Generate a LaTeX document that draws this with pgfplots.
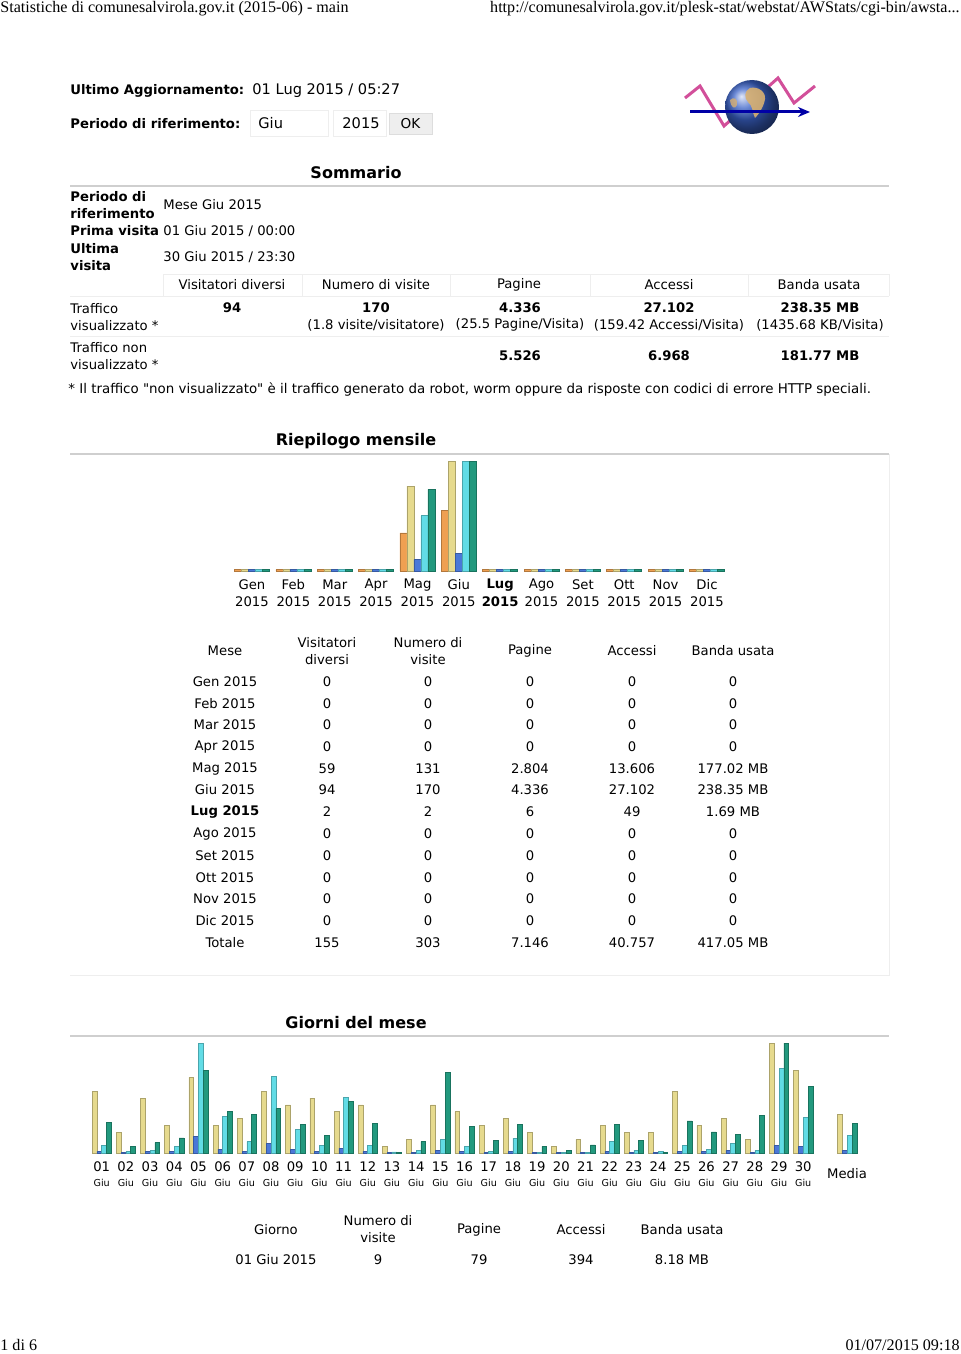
\documentclass[border=0pt]{standalone}
\usepackage{pgfplots}
\pgfplotsset{compat=1.18}
\usepackage{pgfplotstable}
\usepackage{fontspec}
\setmainfont{DejaVu Sans}
\newfontfamily\serif{Liberation Serif}
\usetikzlibrary{arrows.meta}

\definecolor{cu}{HTML}{EFA052}
\definecolor{cv}{HTML}{E6DA8E}
\definecolor{cp}{HTML}{4A78D8}
\definecolor{ch}{HTML}{62DCE6}
\definecolor{ck}{HTML}{22997E}
\definecolor{rulec}{HTML}{CFCFCF}
\definecolor{faint}{HTML}{EEEEEE}
\definecolor{globe}{HTML}{3A62C8}
\definecolor{land}{HTML}{D8B070}

\newcommand\fs{\fontsize{6.6pt}{8pt}\selectfont}
\newcommand\fsb{\fontsize{6.6pt}{8pt}\selectfont\bfseries}
\newcommand\ft{\fontsize{8pt}{9pt}\selectfont\bfseries}
\newcommand\fh{\serif\fontsize{8.05pt}{9pt}\selectfont}
\newcommand\sq{{\XeTeXglyph\XeTeXcharglyph"22 }}

% monthly summary
\pgfplotstableread{
m vu v p h k
0 0 0 0 0 0
1 0 0 0 0 0
2 0 0 0 0 0
3 0 0 0 0 0
4 59 131 2804 13606 177.02
5 94 170 4336 27102 238.35
6 2 2 6 49 1.69
7 0 0 0 0 0
8 0 0 0 0 0
9 0 0 0 0 0
10 0 0 0 0 0
11 0 0 0 0 0
}\monthly

% days of the month (last row = Media)
\pgfplotstableread{
d v p h k
1 9 79 394 8.18
2 3 36 87 1.80
3 8 87 137 2.77
4 4 87 341 4.04
5 11 850 5600 21.98
6 4 204 1868 11.22
7 5 87 575 10.30
8 9 473 3920 11.84
9 7 204 1186 7.61
10 8 87 392 4.76
11 6 255 2815 13.80
12 7 87 407 7.99
13 1 40 52 0.27
14 2 51 153 3.04
15 7 137 697 21.60
16 6 87 341 7.07
17 4 51 66 3.42
18 5 87 764 7.72
19 3 36 51 1.80
20 1 36 38 0.73
21 2 36 51 2.15
22 4 87 575 7.72
23 3 36 137 3.42
24 3 36 66 0.19
25 9 87 407 8.61
26 4 87 204 5.65
27 5 137 473 5.03
28 2 36 137 10.03
29 16 407 4291 29.40
30 12 341 1832 17.75
31.82 5.67 144.5 903.4 7.95
}\days

\newcommand\mrow[7]{%
  \node at (225,#1) {#2}; \node at (327,#1) {#3}; \node at (428,#1) {#4};
  \node at (530,#1) {#5}; \node at (632,#1) {#6}; \node at (733,#1) {#7};}

\begin{document}
\begin{tikzpicture}
\begin{scope}[x=0.5pt,y=-0.5pt,every node/.style={inner sep=0pt,font=\fs}]
\path (0,0) rectangle (960,1354);

% browser header / footer
\node[anchor=north west,font=\fh] at (0,0.5) {Statistiche di comunesalvirola.gov.it (2015-06) - main};
\node[anchor=north east,font=\fh] at (960,0.5) {http://comunesalvirola.gov.it/plesk-stat/webstat/AWStats/cgi-bin/awsta...};
\node[anchor=mid west,font=\fh] at (0,1345) {1 di 6};
\node[anchor=mid east,font=\fh] at (960,1345) {01/07/2015 09:18};

% top block
\node[anchor=mid west,font=\fsb] at (70,89) {Ultimo Aggiornamento:};
\node[anchor=mid west,font=\fontsize{7.3pt}{8pt}\selectfont] at (252,89) {01 Lug 2015 / 05:27};
\node[anchor=mid west,font=\fsb] at (70,123) {Periodo di riferimento:};
\draw[faint,fill=white] (250,110) rectangle (328,136);
\draw[faint,fill=white] (333,110) rectangle (386,136);
\draw[rulec!70,fill=faint] (389,113) rectangle (432,134);
\node[anchor=mid west,font=\fontsize{7.3pt}{8pt}\selectfont] at (258,123) {Giu};
\node[anchor=mid east,font=\fontsize{7.3pt}{8pt}\selectfont] at (380,123) {2015};
\node[font=\fontsize{6.8pt}{8pt}\selectfont] at (410.5,124) {OK};

% logo
\draw[magenta!60!violet!80,line width=1.5pt,line join=miter] (685,98) -- (700,86) -- (724,126) -- (778,78) -- (794,103) -- (815,86);
\shade[ball color=globe] (752,107) circle (27);
\fill[land,opacity=0.9] (750,88) .. controls (758,86) and (766,92) .. (765,99) .. controls (764,106) and (759,114) .. (755,118) .. controls (752,112) and (753,106) .. (748,102) .. controls (744,98) and (744,91) .. cycle;
\fill[land,opacity=0.8] (730,100) .. controls (734,96) and (738,99) .. (737,105) .. controls (735,110) and (731,108) .. cycle;
\draw[blue!65!black,line width=1.5pt,-{Stealth[length=6pt,width=5pt]}] (690,112) -- (810,112);

% Sommario
\node[font=\ft] at (356,173) {Sommario};
\draw[rulec,line width=0.8pt] (70,186) -- (889,186);
\node[anchor=mid west,font=\fsb] at (70,196) {Periodo di};
\node[anchor=mid west,font=\fsb] at (70,213) {riferimento};
\node[anchor=mid west] at (163,204) {Mese Giu 2015};
\node[anchor=mid west,font=\fsb] at (70,230) {Prima visita};
\node[anchor=mid west] at (163,230) {01 Giu 2015 / 00:00};
\node[anchor=mid west,font=\fsb] at (70,248) {Ultima};
\node[anchor=mid west,font=\fsb] at (70,265) {visita};
\node[anchor=mid west] at (163,256) {30 Giu 2015 / 23:30};
\draw[faint] (163,274) -- (889,274);
\draw[faint] (70,296) -- (889,296);
\foreach \xx in {163,302,450,590,748,889} \draw[faint] (\xx,274) -- (\xx,296);
\node at (232,285) {Visitatori diversi};
\node at (376,285) {Numero di visite};
\node at (519,285) {Pagine};
\node at (669,285) {Accessi};
\node at (819,285) {Banda usata};
\node[anchor=mid west] at (70,308) {Traffico};
\node[anchor=mid west] at (70,325) {visualizzato *};
\node[font=\fsb] at (232,308) {94};
\node[font=\fsb] at (376,308) {170};
\node[font=\fsb] at (520,308) {4.336};
\node[font=\fsb] at (669,308) {27.102};
\node[font=\fsb] at (820,308) {238.35 MB};
\node at (376,325) {(1.8 visite/visitatore)};
\node at (520,325) {(25.5 Pagine/Visita)};
\node at (669,325) {(159.42 Accessi/Visita)};
\node at (820,325) {(1435.68 KB/Visita)};
\draw[faint] (70,336) -- (889,336);
\node[anchor=mid west] at (70,347) {Traffico non};
\node[anchor=mid west] at (70,364) {visualizzato *};
\node[font=\fsb] at (520,356) {5.526};
\node[font=\fsb] at (669,356) {6.968};
\node[font=\fsb] at (820,356) {181.77 MB};
\node[anchor=mid west,font=\fontsize{6.7pt}{8pt}\selectfont] at (68,388) {* Il traffico \sq non visualizzato\sq\ è il traffico generato da robot, worm oppure da risposte con codici di errore HTTP speciali.};

% Riepilogo mensile
\node[font=\ft] at (356,441) {Riepilogo mensile};
\draw[rulec,line width=0.8pt] (70,454) -- (889,454);
\draw[faint] (889,454) -- (889,975) -- (70,975);
\foreach \n [count=\i from 0] in {Gen,Feb,Mar,Apr,Mag,Giu,Lug,Ago,Set,Ott,Nov,Dic} {
  \pgfmathsetmacro\xx{252+41.36*\i}
  \node at (\xx,585) {\ifnum\i=6 \bfseries\fi\n};
  \node at (\xx,602) {\ifnum\i=6 \bfseries\fi 2015};
}
\node at (225,651) {Mese};
\node at (327,643) {Visitatori};
\node at (327,660) {diversi};
\node at (428,643) {Numero di};
\node at (428,660) {visite};
\node at (530,651) {Pagine};
\node at (632,651) {Accessi};
\node at (733,651) {Banda usata};
\mrow{682}{Gen 2015}{0}{0}{0}{0}{0}
\mrow{703.5}{Feb 2015}{0}{0}{0}{0}{0}
\mrow{725}{Mar 2015}{0}{0}{0}{0}{0}
\mrow{747}{Apr 2015}{0}{0}{0}{0}{0}
\mrow{769}{Mag 2015}{59}{131}{2.804}{13.606}{177.02 MB}
\mrow{790}{Giu 2015}{94}{170}{4.336}{27.102}{238.35 MB}
\mrow{812}{\bfseries Lug 2015}{2}{2}{6}{49}{1.69 MB}
\mrow{834}{Ago 2015}{0}{0}{0}{0}{0}
\mrow{856}{Set 2015}{0}{0}{0}{0}{0}
\mrow{878}{Ott 2015}{0}{0}{0}{0}{0}
\mrow{899}{Nov 2015}{0}{0}{0}{0}{0}
\mrow{921}{Dic 2015}{0}{0}{0}{0}{0}
\mrow{943}{Totale}{155}{303}{7.146}{40.757}{417.05 MB}

% Giorni del mese
\node[font=\ft] at (356,1023) {Giorni del mese};
\draw[rulec,line width=0.8pt] (70,1036) -- (889,1036);
\foreach \d [count=\i from 0] in {01,02,03,04,05,06,07,08,09,10,11,12,13,14,15,16,17,18,19,20,21,22,23,24,25,26,27,28,29,30} {
  \pgfmathsetmacro\xx{101.7+24.19*\i}
  \node at (\xx,1167) {\d};
  \node[font=\fontsize{4.8pt}{5pt}\selectfont] at (\xx,1183) {Giu};
}
\node at (847,1174) {Media};
\node at (276,1230) {Giorno};
\node at (378,1221) {Numero di};
\node at (378,1238) {visite};
\node at (479,1230) {Pagine};
\node at (581,1230) {Accessi};
\node at (682,1230) {Banda usata};
\node at (276,1260) {01 Giu 2015};
\node at (378,1260) {9};
\node at (479,1260) {79};
\node at (581,1260) {394};
\node at (682,1260) {8.18 MB};
\end{scope}

% monthly bar chart
\begin{axis}[at={(0pt,-285.5pt)},anchor=south west,scale only axis,
  width=480pt,height=55pt,xmin=0,xmax=960,ymin=0,ymax=1,
  axis lines=none,clip=false,enlargelimits=false,
  every axis plot/.append style={ybar,bar width=3.5pt,bar shift=0pt,line width=0.3pt}]
\addplot[fill=cu,draw=cu!75!black] table[x expr={252+41.36*\thisrow{m}-14},y expr={max(\thisrow{vu}/170,0.012)}]{\monthly};
\addplot[fill=cv,draw=cv!75!black] table[x expr={252+41.36*\thisrow{m}-7},y expr={max(\thisrow{v}/170,0.012)}]{\monthly};
\addplot[fill=cp,draw=cp!75!black] table[x expr={252+41.36*\thisrow{m}},y expr={max(\thisrow{p}/27102,0.012)}]{\monthly};
\addplot[fill=ch,draw=ch!75!black] table[x expr={252+41.36*\thisrow{m}+7},y expr={max(\thisrow{h}/27102,0.012)}]{\monthly};
\addplot[fill=ck,draw=ck!75!black] table[x expr={252+41.36*\thisrow{m}+14},y expr={max(\thisrow{k}/238.35,0.012)}]{\monthly};
\end{axis}

% daily bar chart
\begin{axis}[at={(0pt,-576.5pt)},anchor=south west,scale only axis,
  width=480pt,height=55pt,xmin=0,xmax=960,ymin=0,ymax=1,
  axis lines=none,clip=false,enlargelimits=false,
  every axis plot/.append style={ybar,bar width=2.4pt,bar shift=0pt,line width=0.3pt}]
\addplot[fill=cv,draw=cv!75!black] table[x expr={101.7+24.19*(\thisrow{d}-1)-7.2},y expr={\thisrow{v}/16}]{\days};
\addplot[fill=cp,draw=cp!75!black] table[x expr={101.7+24.19*(\thisrow{d}-1)-2.4},y expr={\thisrow{p}/5600}]{\days};
\addplot[fill=ch,draw=ch!75!black] table[x expr={101.7+24.19*(\thisrow{d}-1)+2.4},y expr={\thisrow{h}/5600}]{\days};
\addplot[fill=ck,draw=ck!75!black] table[x expr={101.7+24.19*(\thisrow{d}-1)+7.2},y expr={\thisrow{k}/29.4}]{\days};
\end{axis}
\end{tikzpicture}
\end{document}
